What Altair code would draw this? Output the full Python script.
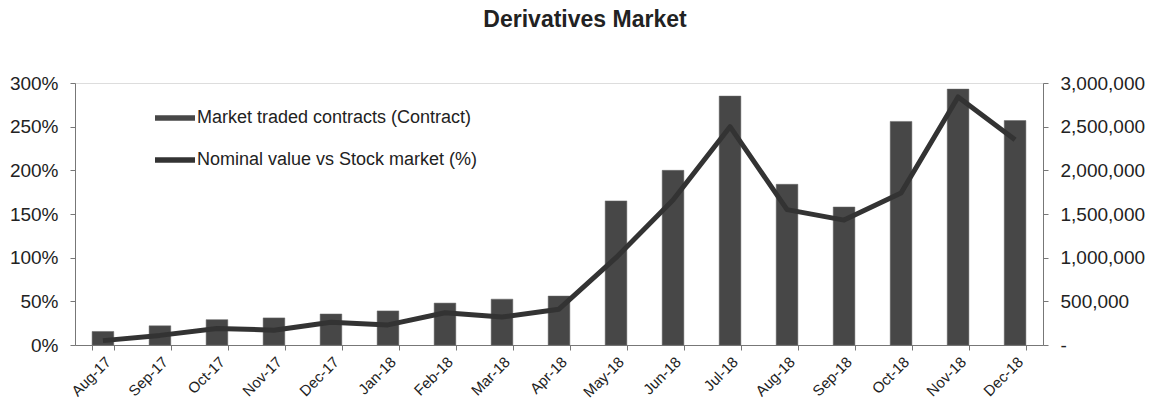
import altair as alt
import pandas as pd

months = ["Aug-17", "Sep-17", "Oct-17", "Nov-17", "Dec-17", "Jan-18", "Feb-18", "Mar-18",
          "Apr-18", "May-18", "Jun-18", "Jul-18", "Aug-18", "Sep-18", "Oct-18", "Nov-18", "Dec-18"]
contracts = [155000, 220000, 290000, 310000, 355000, 390000, 480000, 525000,
             560000, 1650000, 2000000, 2850000, 1840000, 1580000, 2560000, 2930000, 2570000]
nominal_pct = [0.05, 0.11, 0.19, 0.17, 0.26, 0.23, 0.37, 0.32,
               0.41, 1.00, 1.66, 2.50, 1.55, 1.43, 1.74, 2.84, 2.35]

BAR_LABEL = "Market traded contracts (Contract)"
LINE_LABEL = "Nominal value vs Stock market (%)"

df = pd.DataFrame({"month": months, "contracts": contracts, "pct": nominal_pct})

FONT = "Liberation Sans"

x_enc = alt.X("month:N", sort=months, title=None,
              scale=alt.Scale(paddingInner=0.62, paddingOuter=0.3),
              axis=alt.Axis(labelAngle=-45, tickBand="extent", labelFontSize=15,
                            labelFont=FONT, labelColor="#222", tickColor="#777",
                            domainColor="#777", tickSize=5, labelPadding=4))

color_scale = alt.Scale(domain=[BAR_LABEL, LINE_LABEL], range=["#474747", "#333333"])
legend = alt.Legend(title=None, orient="none", legendX=80, legendY=15,
                    symbolType="M-1,-0.14H1V0.14H-1Z", symbolSize=1600,
                    labelFontSize=18, labelFont=FONT, labelColor="#222", labelLimit=0,
                    rowPadding=13, labelOffset=2, symbolStrokeWidth=0,
                    symbolFillColor="#333")

bars = alt.Chart(df).transform_calculate(series=f"'{BAR_LABEL}'").mark_bar(
    stroke="#666", strokeWidth=0.5
).encode(
    x=x_enc,
    y=alt.Y("contracts:Q", title=None,
            scale=alt.Scale(domain=[0, 3000000], nice=False),
            axis=alt.Axis(orient="right", values=[0, 500000, 1000000, 1500000, 2000000, 2500000, 3000000],
                          labelExpr="datum.value == 0 ? '-' : format(datum.value, ',')",
                          labelFontSize=19, labelFont=FONT, labelColor="#222",
                          grid=False, tickColor="#777", domainColor="#777",
                          tickSize=5, labelPadding=12)),
    color=alt.Color("series:N", scale=color_scale, legend=legend),
)

line = alt.Chart(df).transform_calculate(series=f"'{LINE_LABEL}'").mark_line(
    strokeWidth=5, strokeJoin="round"
).encode(
    x=x_enc,
    y=alt.Y("pct:Q", title=None,
            scale=alt.Scale(domain=[0, 3], nice=False),
            axis=alt.Axis(orient="left", values=[0, 0.5, 1, 1.5, 2, 2.5, 3], format=".0%",
                          labelFontSize=19, labelFont=FONT, labelColor="#222",
                          grid=False, tickColor="#777", domainColor="#777",
                          tickSize=5, labelPadding=12)),
    color=alt.Color("series:N", scale=color_scale, legend=legend),
)

chart = alt.layer(bars, line).resolve_scale(y="independent").properties(
    width=968, height=262,
    title=alt.TitleParams("Derivatives Market", font=FONT, fontSize=23, fontWeight="bold",
                          color="#222", offset=42, dx=26),
    autosize=alt.AutoSizeParams(type="none"),
    padding={"left": 75, "top": 83, "right": 120, "bottom": 61},
).configure_view(stroke=None).configure(background="white")

chart.save("out.html", embed_options={"renderer": "svg", "actions": False})
